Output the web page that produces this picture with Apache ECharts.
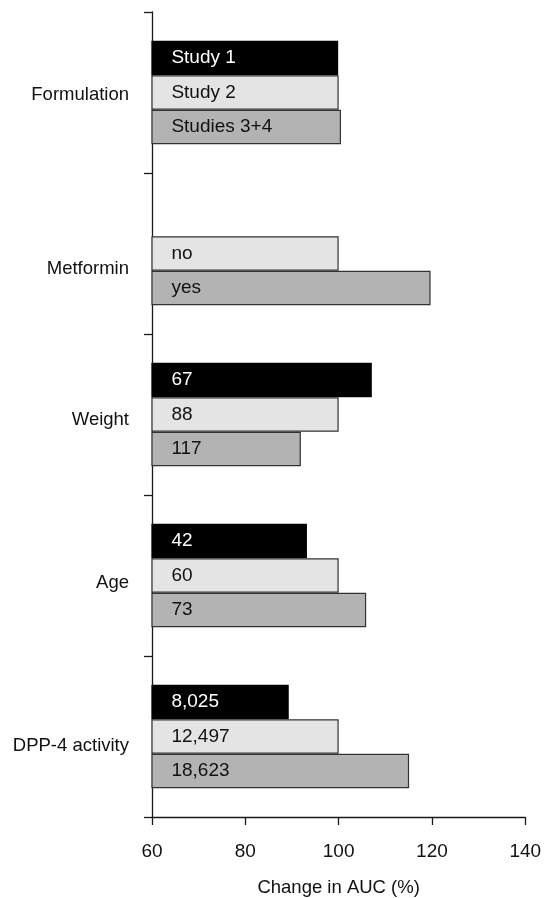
<!DOCTYPE html>
<html>
<head>
<meta charset="utf-8">
<script src="https://cdn.jsdelivr.net/npm/echarts@6/dist/echarts.min.js"></script>
<style>
  html, body { margin: 0; padding: 0; background: #ffffff; }
  #chart { width: 544px; height: 898px; }
</style>
</head>
<body>
<div id="chart"></div>
<script>
// Factors on the vertical axis, top to bottom
const categories = ['Formulation', 'Metformin', 'Weight', 'Age', 'DPP-4 activity'];

// Subgroup names written inside each bar (top, middle, bottom bar of a factor)
const groupLabels1 = ['Study 1', null, '67', '42', '8,025'];
const groupLabels2 = ['Study 2', 'no', '88', '60', '12,497'];
const groupLabels3 = ['Studies 3+4', 'yes', '117', '73', '18,623'];

// Change in AUC (%) for each subgroup
const values1 = [99.9, null, 107.1, 93.2, 89.3];
const values2 = [100, 100, 100, 100, 100];
const values3 = [100.5, 119.7, 91.9, 105.9, 115.1];

// Horizontal axis ticks
const xTicks = [60, 80, 100, 120, 140];

const FONT = "'Liberation Sans', Arial, Helvetica, sans-serif";
const AXIS_COLOR = '#1a1a1a';

// vertical nudge (px) for each factor name
const labelNudge = [2.5, 15.5, 5.5, 7.5, 9.5];
const richLabels = {};
labelNudge.forEach((n, i) => {
  richLabels['c' + i] = {
    fontFamily: FONT, fontSize: 18.5, color: '#111',
    padding: [Math.round(n * 2), 0, 0, 0]
  };
});

function barSeries(name, values, labels, fill, border, textColor) {
  return {
    name: name,
    type: 'bar',
    data: values,
    barWidth: 34.5,
    barGap: '0%',
    itemStyle: { color: fill, borderColor: border, borderWidth: 1.2 },
    label: {
      show: true,
      position: 'insideLeft',
      distance: 20,
      fontFamily: FONT,
      fontSize: 19,
      color: textColor,
      formatter: p => labels[p.dataIndex] || ''
    },
    emphasis: { disabled: true },
    silent: true
  };
}

const chart = echarts.init(document.getElementById('chart'), null, { renderer: 'canvas' });
chart.setOption({
  animation: false,
  backgroundColor: '#ffffff',
  grid: { left: 152, right: 18.7, top: 12, bottom: 81, containLabel: false, outerBoundsMode: 'none' },
  xAxis: {
    type: 'value',
    min: xTicks[0],
    max: xTicks[xTicks.length - 1],
    interval: xTicks[1] - xTicks[0],
    name: 'Change in AUC (%)',
    nameLocation: 'middle',
    nameGap: 61,
    nameTextStyle: { fontFamily: FONT, fontSize: 18.5, color: '#111' },
    axisLine: { show: true, lineStyle: { color: AXIS_COLOR, width: 1.3 } },
    axisTick: { show: true, inside: false, length: 8, lineStyle: { color: AXIS_COLOR, width: 1.3 } },
    axisLabel: { margin: 25, fontFamily: FONT, fontSize: 19, color: '#111' },
    splitLine: { show: false }
  },
  yAxis: {
    type: 'category',
    data: categories,
    inverse: true,
    axisLine: { show: true, lineStyle: { color: AXIS_COLOR, width: 1.3 } },
    axisTick: { show: true, inside: false, length: 8, alignWithLabel: false, lineStyle: { color: AXIS_COLOR, width: 1.3 } },
    axisLabel: {
      margin: 23,
      fontFamily: FONT,
      fontSize: 18.5,
      color: '#111',
      formatter: (v, i) => '{c' + i + '|' + v + '}',
      rich: richLabels
    },
    splitLine: { show: false }
  },
  series: [
    barSeries('Low', values1, groupLabels1, '#000000', '#000000', '#ffffff'),
    barSeries('Middle', values2, groupLabels2, '#e4e4e4', '#333333', '#111111'),
    barSeries('High', values3, groupLabels3, '#b3b3b3', '#333333', '#111111')
  ]
});
</script>
</body>
</html>
